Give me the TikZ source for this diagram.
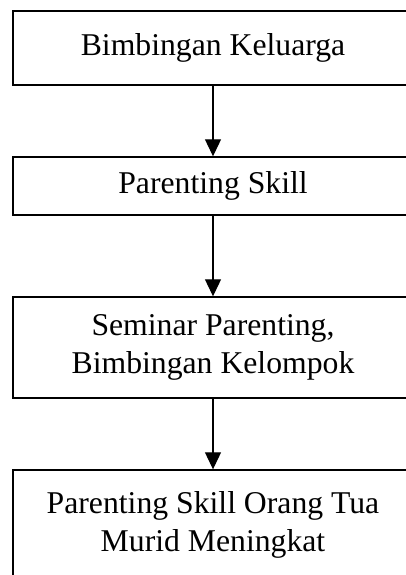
\documentclass[tikz,border=0pt]{standalone}
\usepackage{fontspec}
\setmainfont{Liberation Serif}
\usetikzlibrary{arrows.meta}
\begin{document}
\begin{tikzpicture}[x=1pt, y=-1pt, line width=1.4pt,
    box/.style={draw, rectangle, minimum width=400pt, inner sep=0pt, align=center,
        font=\fontsize{31.7}{37.5}\selectfont},
    >={Triangle[length=17pt, width=16pt]}]
    \useasboundingbox (0,0) rectangle (406,575);
    \node[box, minimum height=74pt] (keluarga) at (213,48) {Bimbingan Keluarga};
    \node[box, minimum height=58pt] (skill) at (213,186) {Parenting Skill};
    \node[box, minimum height=101pt] (seminar) at (213,347.5) {Seminar Parenting,\\Bimbingan Kelompok};
    \node[box, minimum height=110pt] (meningkat) at (213,525) {Parenting Skill Orang Tua\\Murid Meningkat};
    \draw [->, line width=1.1pt] (keluarga) -- (skill);
    \draw [->, line width=1.1pt] (skill) -- (seminar);
    \draw [->, line width=1.1pt] (seminar) -- (meningkat);
\end{tikzpicture}
\end{document}
